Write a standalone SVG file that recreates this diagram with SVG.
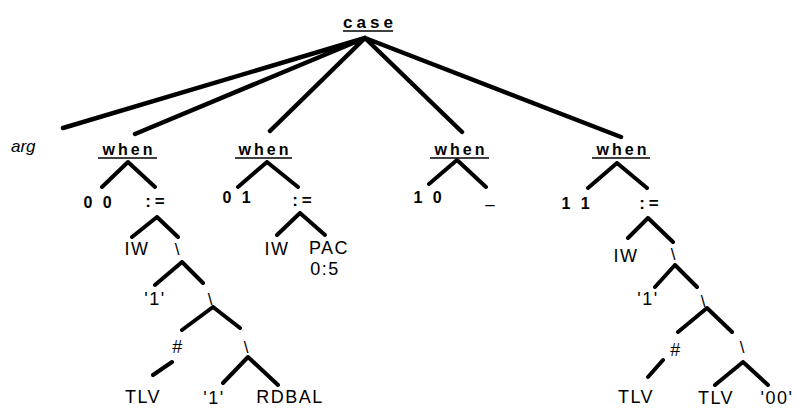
<svg xmlns="http://www.w3.org/2000/svg" width="794" height="409" viewBox="0 0 794 409">
<style>
text{font-family:"Liberation Sans",Arial,sans-serif;fill:#000;text-anchor:middle}
.kw{font-weight:bold;font-size:16px;letter-spacing:3px}
.case{font-weight:bold;font-size:17px;letter-spacing:4px}
.num{font-weight:bold;font-size:16px;letter-spacing:3px}
.op{font-weight:bold;font-size:17px;letter-spacing:4px}
.lbl{font-size:18px;letter-spacing:1.5px}
.cat{font-size:17px}
.arg{font-size:17px;font-style:italic;text-anchor:start}
.ul{stroke:#000;stroke-width:1.6}
.e{stroke:#000;stroke-width:4;stroke-linecap:round;fill:none}
.t{stroke:#000;stroke-width:4.5;stroke-linecap:round;fill:none}
</style>
<rect width="794" height="409" fill="#fff"/>
<g id="connectors">
<path class="t" d="M365 38L63 128M365 38L135 134M365 38L270 131M365 38L462 132M365 38L621 137"/>
<path class="e" d="M128 162L102 187M128 162L155 187M267 162L238 187M267 162L298 187M457 160L429 184M457 160L486 187M617 163L588 188M617 163L647 188"/>
<path class="e" d="M157 217L132 237M157 217L178 237M182 262L155 285M182 262L203 283M213 307L182 330M213 307L240 328M172 362L153 375M248 357L223 383M248 357L278 385"/>
<path class="e" d="M300 213L277 235M300 213L325 235"/>
<path class="e" d="M648 218L628 238M648 218L673 242M675 265L655 287M675 265L697 287M707 308L678 332M707 308L732 332M663 360L648 377M743 362L715 385M743 362L768 385"/>
</g>
<g id="case"><text class="case" x="370" y="28">case</text><line class="ul" x1="343" y1="31" x2="393" y2="31"/></g>
<g id="arg"><text class="arg" x="11" y="152">arg</text></g>
<g id="when1"><text class="kw" x="129" y="155">when</text><line class="ul" x1="98" y1="158" x2="157" y2="158"/></g>
<g id="when2"><text class="kw" x="265" y="155">when</text><line class="ul" x1="235" y1="158" x2="292" y2="158"/></g>
<g id="when3"><text class="kw" x="461" y="155">when</text><line class="ul" x1="430" y1="158" x2="489" y2="158"/></g>
<g id="when4"><text class="kw" x="623" y="155">when</text><line class="ul" x1="592" y1="158" x2="650" y2="158"/></g>
<g id="c00"><text class="num" x="99" y="208">0 0</text></g>
<g id="assign1"><text class="op" x="157" y="207">:=</text></g>
<g id="c01"><text class="num" x="238" y="203">0 1</text></g>
<g id="assign2"><text class="op" x="304" y="206">:=</text></g>
<g id="c10"><text class="num" x="429" y="203">1 0</text></g>
<g id="others"><text class="cat" x="490" y="210">–</text></g>
<g id="c11"><text class="num" x="577" y="209">1 1</text></g>
<g id="assign4"><text class="op" x="651" y="209">:=</text></g>
<g id="l_iw"><text class="lbl" x="137" y="255">IW</text></g>
<g id="l_cat1"><text class="cat" x="177" y="255">\</text></g>
<g id="l_one1"><text class="lbl" x="155" y="305">'1'</text></g>
<g id="l_cat2"><text class="cat" x="210" y="305">\</text></g>
<g id="l_hash"><text class="lbl" x="178" y="353">#</text></g>
<g id="l_cat3"><text class="cat" x="246" y="353">\</text></g>
<g id="l_tlv"><text class="lbl" x="143" y="403">TLV</text></g>
<g id="l_one2"><text class="lbl" x="214" y="404">'1'</text></g>
<g id="l_rdbal"><text class="lbl" x="290" y="403">RDBAL</text></g>
<g id="m_iw"><text class="lbl" x="277" y="255">IW</text></g>
<g id="m_pac"><text class="lbl" x="329" y="254">PAC</text><text class="lbl" x="325" y="275">0:5</text></g>
<g id="r_iw"><text class="lbl" x="626" y="262">IW</text></g>
<g id="r_cat1"><text class="cat" x="673" y="260">\</text></g>
<g id="r_one"><text class="lbl" x="648" y="305">'1'</text></g>
<g id="r_cat2"><text class="cat" x="703" y="307">\</text></g>
<g id="r_hash"><text class="lbl" x="676" y="356">#</text></g>
<g id="r_cat3"><text class="cat" x="742" y="353">\</text></g>
<g id="r_tlv1"><text class="lbl" x="636" y="403">TLV</text></g>
<g id="r_tlv2"><text class="lbl" x="716" y="404">TLV</text></g>
<g id="r_00"><text class="lbl" x="777" y="404">'00'</text></g>
</svg>
